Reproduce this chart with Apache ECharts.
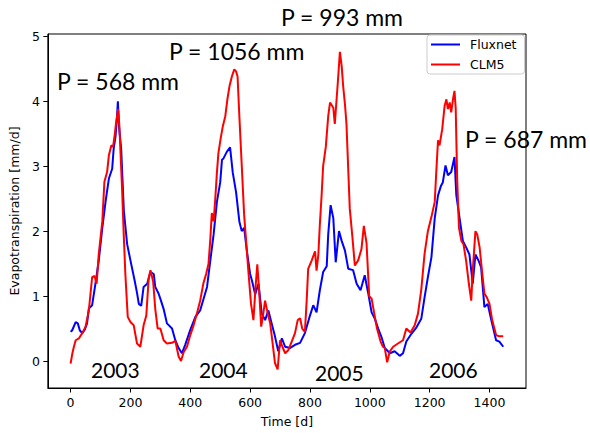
<!DOCTYPE html>
<html>
<head>
<meta charset="utf-8">
<script src="https://cdn.jsdelivr.net/npm/echarts@6/dist/echarts.min.js"></script>
<style>html,body{margin:0;padding:0;background:#fff}#c{width:590px;height:433px}</style>
</head>
<body>
<div id="c"></div>
<script>
// ---- data ----
const fluxnetDays = [0,5,17,24,31,39,47,55,61,72,83,94,106,117,128,139,144,150,155,158,162,169,178,189,200,214,222,228,236,244,256,267,278,283,294,302,311,322,339,350,361,372,383,400,417,433,444,456,467,478,489,500,506,511,522,533,542,553,564,572,580,589,600,606,617,628,639,650,661,672,683,694,706,717,733,750,767,783,800,811,822,833,844,856,861,869,878,886,897,906,917,928,944,956,969,983,994,1006,1017,1028,1039,1050,1067,1083,1100,1111,1122,1139,1156,1172,1183,1194,1206,1217,1228,1238,1244,1253,1261,1272,1283,1289,1300,1311,1322,1333,1344,1353,1364,1372,1383,1394,1406,1422,1433,1446];
const fluxnetValues = [0.45,0.47,0.60,0.58,0.47,0.43,0.48,0.58,0.81,0.86,1.19,1.54,2.05,2.46,2.81,2.96,3.27,3.45,3.75,4.00,3.60,3.27,2.31,1.80,1.55,1.24,1.05,0.88,0.85,1.14,1.19,1.37,1.34,1.14,1.04,0.93,0.80,0.58,0.50,0.32,0.20,0.12,0.25,0.48,0.68,0.78,0.95,1.14,1.55,1.95,2.45,2.75,3.10,3.12,3.22,3.29,2.90,2.60,2.15,2.00,2.05,1.70,1.34,1.24,1.03,1.19,0.73,0.63,0.78,0.58,0.38,0.15,0.35,0.22,0.20,0.25,0.28,0.43,0.70,0.86,0.75,1.09,1.37,1.46,1.95,2.40,2.20,1.52,2.00,1.85,1.70,1.42,1.40,1.19,1.09,1.32,1.06,0.75,0.65,0.50,0.37,0.20,0.12,0.15,0.08,0.12,0.30,0.42,0.52,0.65,0.98,1.29,1.60,2.20,2.55,2.70,2.75,3.01,2.86,2.91,3.14,2.56,2.20,1.85,1.75,1.64,1.19,1.64,1.54,1.44,0.83,0.88,0.63,0.32,0.30,0.22];
const clm5Days = [0,6,11,17,28,39,50,61,72,80,87,94,106,113,122,128,136,142,148,152,159,163,172,178,183,191,200,211,222,233,244,253,261,267,276,283,291,300,311,322,339,350,361,369,378,389,400,411,422,433,444,453,461,467,472,478,483,489,494,502,509,517,524,531,539,547,553,558,564,572,580,589,594,603,611,619,624,630,637,644,650,659,667,674,683,692,700,708,717,728,739,750,759,767,774,783,789,794,806,817,822,828,833,839,844,853,861,867,878,883,889,894,900,906,911,917,922,933,942,950,961,972,980,989,998,1006,1013,1024,1036,1044,1050,1058,1067,1078,1094,1111,1122,1136,1150,1161,1172,1183,1194,1206,1217,1222,1228,1233,1242,1250,1256,1261,1267,1272,1278,1283,1287,1292,1298,1306,1313,1322,1331,1339,1344,1353,1359,1367,1376,1383,1391,1400,1409,1422,1433,1446];
const clm5Values = [-0.04,0.12,0.22,0.32,0.35,0.43,0.53,0.78,1.29,1.31,1.19,1.64,2.15,2.76,2.91,3.17,3.32,3.30,3.50,3.67,3.88,3.62,2.66,1.90,1.34,0.68,0.60,0.55,0.27,0.22,0.55,0.70,1.28,1.40,1.22,0.80,0.50,0.50,0.32,0.27,0.28,0.31,0.07,0.00,0.14,0.22,0.40,0.55,0.73,0.93,1.20,1.34,1.50,1.88,2.28,2.15,2.46,2.90,3.20,3.44,3.62,3.77,4.03,4.23,4.38,4.49,4.46,4.38,3.77,3.01,2.25,1.70,1.39,0.88,0.63,1.19,1.49,1.09,0.53,0.73,0.93,0.73,0.58,0.32,-0.03,-0.13,0.32,0.22,0.12,0.17,0.30,0.43,0.63,0.66,0.50,0.45,0.93,1.42,1.55,1.69,1.39,1.64,2.10,2.56,3.00,3.30,3.77,3.98,3.90,3.65,4.03,4.35,4.76,4.54,4.23,3.95,3.65,2.35,1.90,1.47,1.55,1.72,2.08,1.82,1.00,0.96,0.78,0.50,0.30,0.22,0.20,-0.02,0.15,0.22,0.27,0.32,0.50,0.44,0.55,0.73,1.10,1.65,2.00,2.22,2.45,2.90,3.40,3.32,3.57,3.93,4.03,3.88,3.98,3.83,4.03,4.16,3.90,2.80,2.05,1.85,1.80,1.54,1.19,0.93,1.39,2.00,1.95,1.75,1.34,1.04,0.98,0.88,0.63,0.40,0.38,0.38];
const xTickValues = [0,200,400,600,800,1000,1200,1400];
const yTickValues = [0,1,2,3,4,5];
const seriesNames = ['Fluxnet','CLM5'];
const precipLabels = ['P = 568 mm','P = 1056 mm','P = 993 mm','P = 687 mm'];
const yearLabels = ['2003','2004','2005','2006'];

// ---- chart ----
const chart = echarts.init(document.getElementById('c'), null, {renderer:'svg'});
const tickFont = {fontFamily:'DejaVu Sans', fontSize:12.5, color:'#000'};
const bigFont = '23px Lato';
const yearFont = '21px Lato';
const precipPos = [[57,83],[169,53],[281,19],[465,141]];
const yearPos = [[91,371],[199,371],[315,374],[429,371]];
const graphics = [];
precipLabels.forEach((t,i)=>graphics.push({type:'text', left:precipPos[i][0], top:precipPos[i][1]-14, z:100,
  style:{text:t, font:bigFont, fill:'#000'}}));
yearLabels.forEach((t,i)=>graphics.push({type:'text', left:yearPos[i][0], top:yearPos[i][1]-12, z:100,
  style:{text:t, font:yearFont, fill:'#000'}}));

chart.setOption({
  animation:false,
  backgroundColor:'#fff',
  grid:{left:47, top:34, right:64, bottom:41, show:true, borderColor:'#000', borderWidth:1, backgroundColor:'transparent'},
  xAxis:{type:'value', min:-76, max:1522, name:'Time [d]', nameLocation:'middle', nameGap:27,
    nameTextStyle:tickFont,
    axisLine:{show:true, onZero:false, lineStyle:{color:'#000', width:1}},
    axisTick:{show:true, customValues:xTickValues, length:4.5, lineStyle:{color:'#000'}},
    axisLabel:Object.assign({customValues:xTickValues, margin:8, formatter:v=>String(v)}, tickFont),
    splitLine:{show:false}},
  yAxis:{type:'value', min:-0.415, max:5.035, name:'Evapotranspiration [mm/d]', nameLocation:'middle', nameGap:20,
    nameTextStyle:tickFont,
    axisLine:{show:true, onZero:false, lineStyle:{color:'#000', width:1}},
    axisTick:{show:true, customValues:yTickValues, length:4.5, lineStyle:{color:'#000'}},
    axisLabel:Object.assign({customValues:yTickValues, margin:8, formatter:v=>String(v)}, tickFont),
    splitLine:{show:false}},
  legend:{orient:'vertical', left:427, top:35, padding:[3,8,3,4], itemGap:7, itemWidth:29, itemHeight:2,
    icon:'rect', backgroundColor:'rgba(255,255,255,0.8)', borderColor:'#cccccc', borderWidth:1, borderRadius:3,
    textStyle:{fontFamily:'DejaVu Sans', fontSize:12.5, color:'#000', padding:[0,0,0,5]},
    data:seriesNames},
  series:[
    {name:seriesNames[0], type:'line', showSymbol:false, symbol:'none', color:'#0000ff',
      lineStyle:{width:2, color:'#0000ff'}, data:fluxnetDays.map((d,i)=>[d,fluxnetValues[i]]), z:2},
    {name:seriesNames[1], type:'line', showSymbol:false, symbol:'none', color:'#ff0000',
      lineStyle:{width:2, color:'#ff0000'}, data:clm5Days.map((d,i)=>[d,clm5Values[i]]), z:3}
  ],
  graphic:graphics
});
</script>
</body>
</html>
